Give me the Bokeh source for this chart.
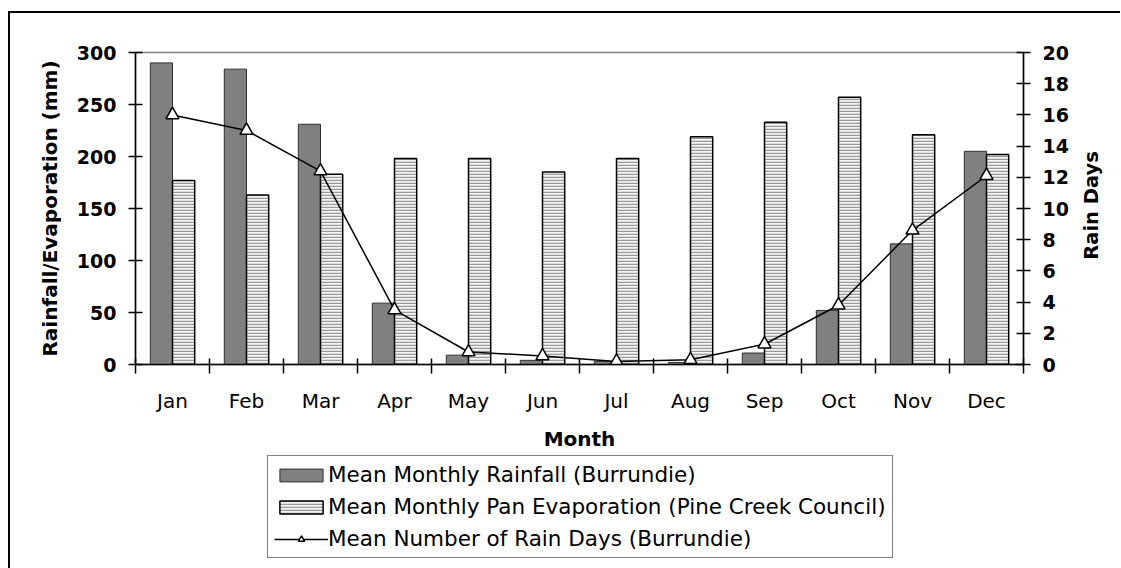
import math
from bokeh.plotting import figure
from bokeh.layouts import column, row
from bokeh.models import (Range1d, LinearAxis, FixedTicker, Legend, LegendItem,
                          ColumnDataSource, Label)
from bokeh.embed import file_html
from bokeh.resources import INLINE

months = ["Jan", "Feb", "Mar", "Apr", "May", "Jun", "Jul", "Aug", "Sep", "Oct", "Nov", "Dec"]
rainfall = [290, 284, 231, 59, 9, 4, 3, 2, 11, 52, 116, 205]
evaporation = [177, 163, 183, 198, 198, 185, 198, 219, 233, 257, 221, 202]
rain_days = [16.0, 15.0, 12.4, 3.5, 0.8, 0.55, 0.2, 0.3, 1.3, 3.8, 8.6, 12.1]

y_ticks = [0, 50, 100, 150, 200, 250, 300]
y2_ticks = [0, 2, 4, 6, 8, 10, 12, 14, 16, 18, 20]

series_labels = ["Mean Monthly Rainfall (Burrundie)",
                 "Mean Monthly Pan Evaporation (Pine Creek Council)",
                 "Mean Number of Rain Days (Burrundie)"]

FONT = "DejaVu Sans"
RAIN_STYLE = dict(fill_color="#808080", line_color="#303030", line_width=1)
EVAP_STYLE = dict(fill_color="#f4f4f4", line_color="black", line_width=1.5,
                  hatch_pattern="horizontal_line", hatch_color="#9a9a9a",
                  hatch_scale=3, hatch_weight=1.5)
LINE_STYLE = dict(line_color="black", line_width=1.5)
MARK_STYLE = dict(marker="triangle", size=13, fill_color="white",
                  line_color="black", line_width=1.5)

pos = [i + 0.5 for i in range(len(months))]
src = ColumnDataSource(dict(
    x_rain=[x - 0.15 for x in pos],
    x_evap=[x + 0.15 for x in pos],
    x=pos,
    rain=rainfall,
    evap=evaporation,
    days=rain_days,
))

W = 1065
p = figure(width=W, height=441, output_backend="svg", toolbar_location=None,
           x_range=Range1d(0, 12), y_range=Range1d(0, 300),
           min_border_left=125, min_border_right=52, min_border_top=39,
           min_border_bottom=90)
p.extra_y_ranges = {"days": Range1d(0, 20)}
p.grid.visible = False
p.outline_line_color = "#808080"
p.outline_line_width = 1.5
p.background_fill_color = "white"
p.border_fill_color = "white"

p.vbar(x="x_rain", top="rain", width=0.3, source=src, **RAIN_STYLE)
p.vbar(x="x_evap", top="evap", width=0.3, source=src, **EVAP_STYLE)
p.line(x="x", y="days", source=src, y_range_name="days", **LINE_STYLE)
p.scatter(x="x", y="days", source=src, y_range_name="days", **MARK_STYLE)

# x axis: labels at centres, ticks at boundaries
xa = p.xaxis[0]
xa.ticker = FixedTicker(ticks=pos, minor_ticks=list(range(13)))
xa.major_label_overrides = {x: m for x, m in zip(pos, months)}
xa.major_tick_line_color = None
xa.minor_tick_in = 6
xa.minor_tick_out = 9
xa.minor_tick_line_width = 1.5
xa.minor_tick_line_color = "black"
xa.axis_line_width = 1.5
xa.major_label_text_font = FONT
xa.major_label_text_font_size = "20px"
xa.major_label_text_color = "black"
xa.major_label_standoff = 15
xa.axis_label = "Month"
xa.axis_label_text_font = FONT
xa.axis_label_text_font_size = "20px"
xa.axis_label_text_font_style = "bold"
xa.axis_label_text_color = "black"
xa.axis_label_standoff = 11

ya = p.yaxis[0]
ya.ticker = FixedTicker(ticks=y_ticks, minor_ticks=[])
ya.major_tick_in = 7
ya.major_tick_out = 7
ya.major_tick_line_width = 1.5
ya.axis_line_width = 1.5
ya.major_label_text_font = FONT
ya.major_label_text_font_size = "19px"
ya.major_label_text_font_style = "bold"
ya.major_label_text_color = "black"
ya.major_label_standoff = 12
ya.axis_label = "Rainfall/Evaporation (mm)"
ya.axis_label_text_font = FONT
ya.axis_label_text_font_size = "20px"
ya.axis_label_text_font_style = "bold"
ya.axis_label_text_color = "black"
ya.axis_label_standoff = 12

ya2 = LinearAxis(y_range_name="days", ticker=FixedTicker(ticks=y2_ticks, minor_ticks=[]))
ya2.major_tick_in = 7
ya2.major_tick_out = 7
ya2.major_tick_line_width = 1.5
ya2.axis_line_width = 1.5
ya2.major_label_text_font = FONT
ya2.major_label_text_font_size = "19px"
ya2.major_label_text_font_style = "bold"
ya2.major_label_text_color = "black"
ya2.major_label_standoff = 12
p.add_layout(ya2, "right")

# legend panel below the chart; its helper renderers sit hidden behind the
# opaque legend box (they exist only so the legend can draw its swatches)
q = figure(width=W, height=114, output_backend="svg", toolbar_location=None,
           x_range=Range1d(-10, 30), y_range=Range1d(-72, 341),
           x_axis_location=None, y_axis_location=None,
           min_border=0)
q.grid.visible = False
q.outline_line_color = None
q.border_fill_color = "white"
q.background_fill_color = "white"
l1 = q.vbar(x="x_rain", top="rain", width=0.3, source=src, **RAIN_STYLE)
l2 = q.vbar(x="x_evap", top="evap", width=0.3, source=src, **EVAP_STYLE)
l3 = q.line(x="x", y="days", source=src, **LINE_STYLE)
l4 = q.scatter(x="x", y="days", source=src, **MARK_STYLE)

legend = Legend(items=[
    LegendItem(label=series_labels[0], renderers=[l1]),
    LegendItem(label=series_labels[1], renderers=[l2]),
    LegendItem(label=series_labels[2], renderers=[l3, l4]),
], location=(132, 10))
legend.margin = 0
legend.padding = 6
legend.spacing = 7
legend.glyph_width = 54
legend.glyph_height = 16
legend.label_height = 24
legend.label_standoff = 0
legend.label_text_font = FONT
legend.label_text_font_size = "21.5px"
legend.label_text_color = "black"
legend.border_line_color = "black"
legend.border_line_width = 1.5
legend.background_fill_color = "white"
legend.background_fill_alpha = 1
q.add_layout(legend, "center")

# right-hand axis title, reading bottom to top
H = 555
r = figure(width=45, height=H, output_backend="svg", toolbar_location=None,
           x_range=Range1d(0, 45), y_range=Range1d(0, H),
           x_axis_location=None, y_axis_location=None, min_border=0)
r.grid.visible = False
r.outline_line_color = None
r.border_fill_color = "white"
r.background_fill_color = "white"
r.add_layout(Label(x=16, y=H - 192, text="Rain Days", angle=math.pi / 2,
                   text_align="center", text_baseline="middle",
                   text_font=FONT, text_font_size="19.5px",
                   text_font_style="bold", text_color="black"))

layout = row(column(p, q, spacing=0), r, spacing=0, margin=(11, 0, 0, 8),
             styles={"border-top": "2px solid black", "border-left": "2px solid black"})

open("out.html", "w").write(file_html(layout, INLINE))
